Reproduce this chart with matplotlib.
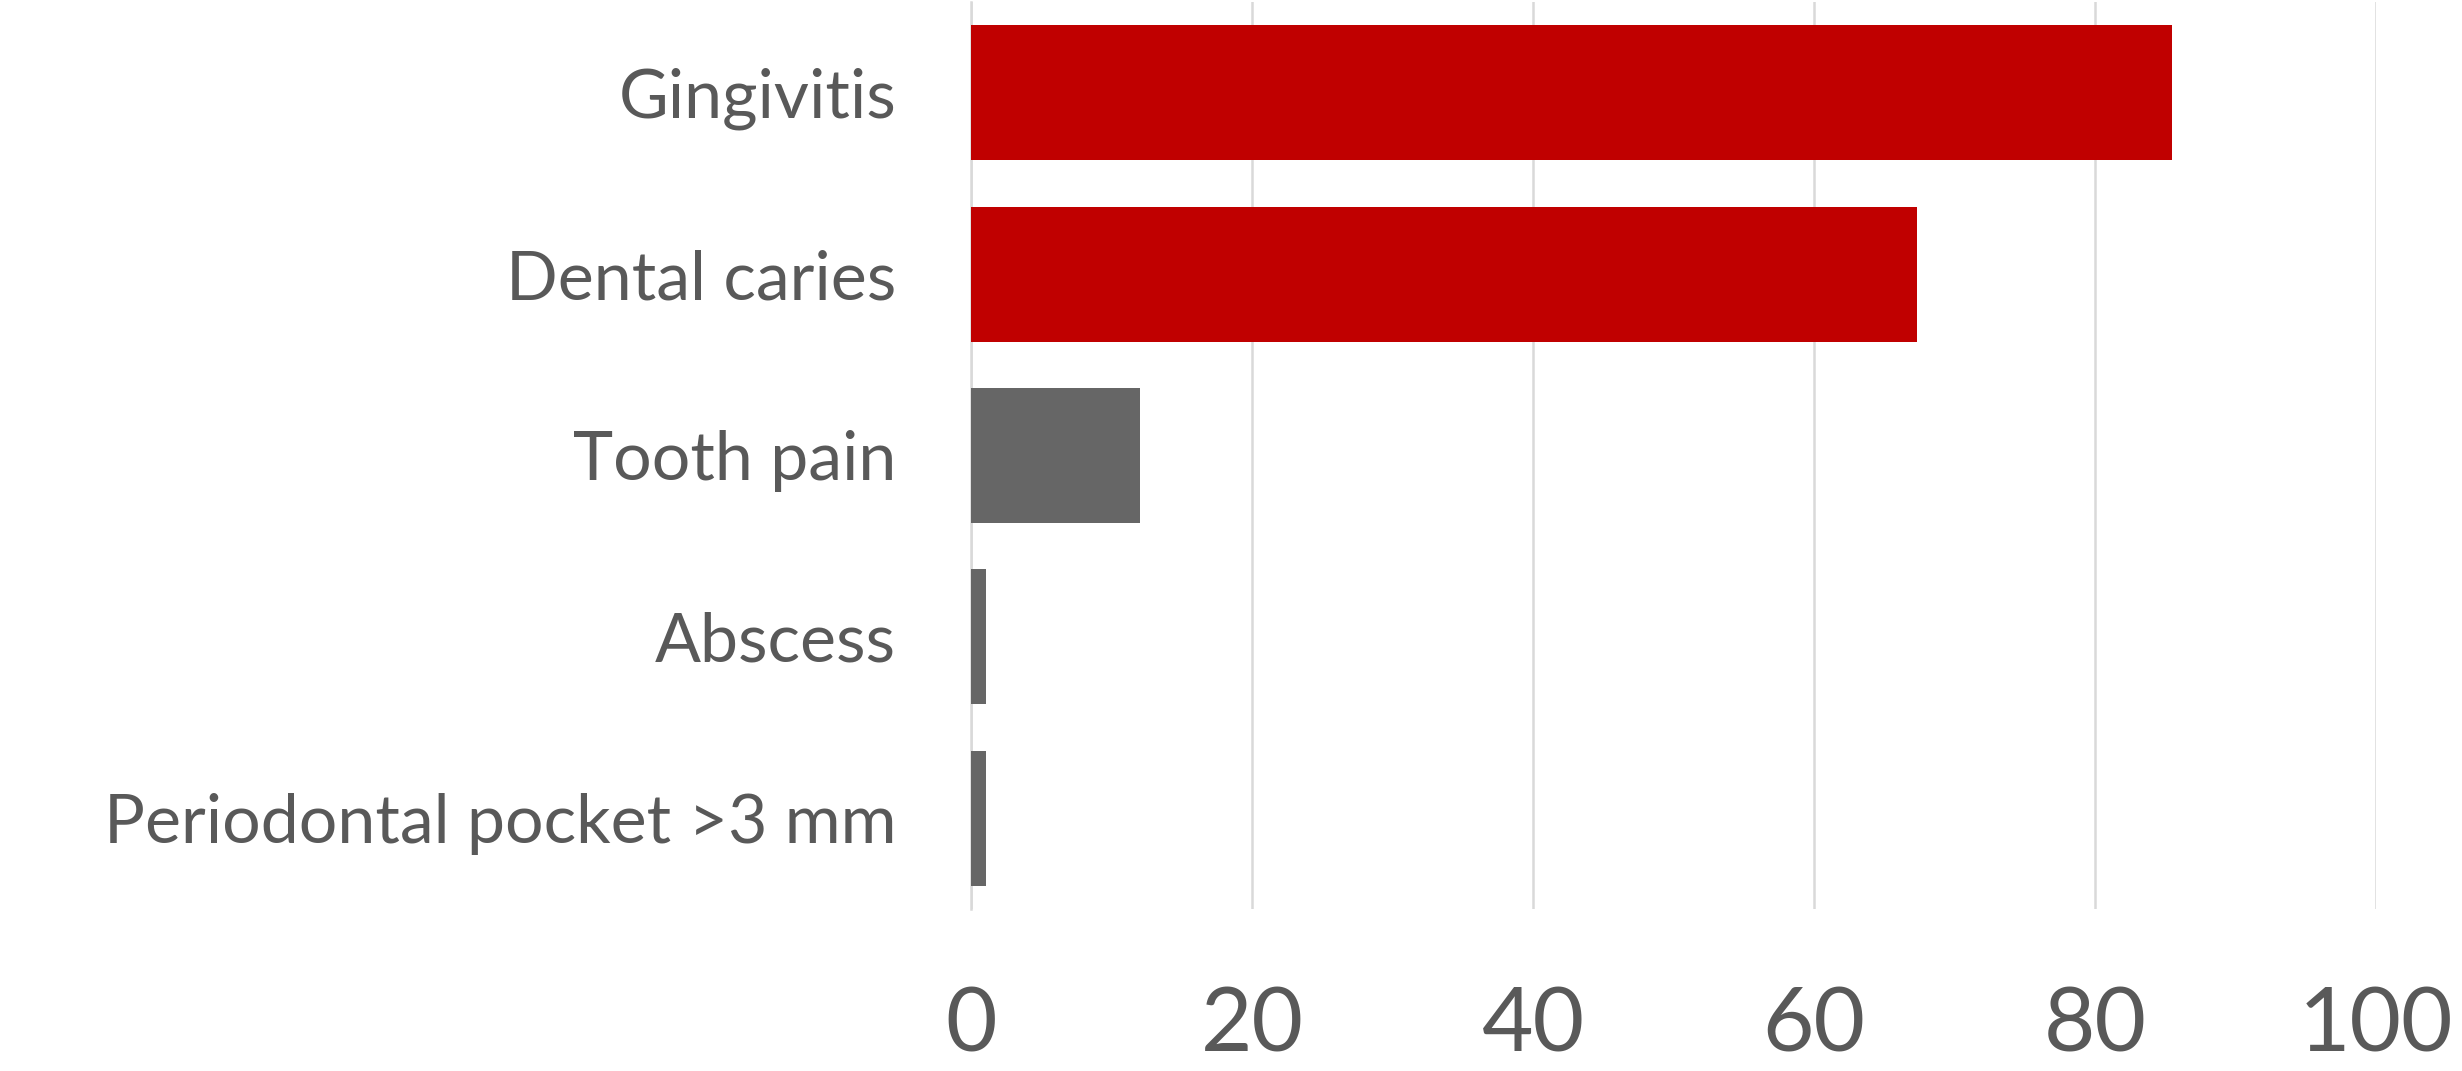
import matplotlib.pyplot as plt
import numpy as np

plt.rcParams['font.family'] = ['Lato', 'DejaVu Sans']

categories = ["Gingivitis", "Dental caries", "Tooth pain", "Abscess",
              "Periodontal pocket >3 mm"]
values = [85.5, 67.3, 12.0, 1.1, 1.1]
colors = ["#C00000", "#C00000", "#666666", "#666666", "#666666"]
xticks = [0, 20, 40, 60, 80, 100]

TEXT = "#595959"
GRID = "#D9D9D9"

fig = plt.figure(figsize=(24.62, 10.71), dpi=100)
ax = fig.add_axes([971 / 2462, 1 - 909 / 1071, (2376 - 971) / 2462, 907 / 1071])

y = np.arange(len(categories))
ax.barh(y, values, height=0.745, color=colors, zorder=3)

ax.set_ylim(len(categories) - 0.5, -0.5)
ax.set_xlim(0, 100)
ax.set_xticks(xticks)
ax.set_xticklabels([str(t) for t in xticks])
ax.set_yticks(y)
ax.set_yticklabels(categories)

ax.grid(axis="x", color=GRID, linewidth=1.8, zorder=0)
for s in ["top", "right", "bottom"]:
    ax.spines[s].set_visible(False)
ax.spines["left"].set_color(GRID)
ax.spines["left"].set_linewidth(1.8)

ax.tick_params(axis="y", length=0, pad=54, labelsize=49, labelcolor=TEXT)
ax.tick_params(axis="x", length=0, pad=55, labelsize=64, labelcolor=TEXT)

fig.savefig("out.png", dpi=100, facecolor="white")
